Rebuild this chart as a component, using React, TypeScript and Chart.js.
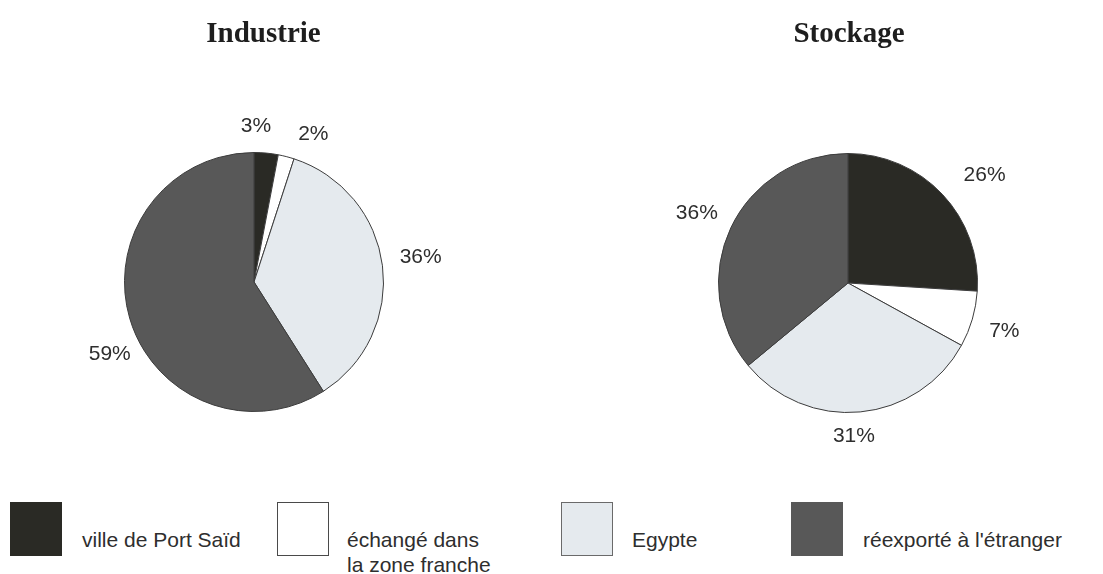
import React, { useEffect, useRef } from "react";
import { Chart, registerables } from "chart.js";

Chart.register(...registerables);

// ---- data ----
const categories = ["ville de Port Saïd", "échangé dans la zone franche", "Egypte", "réexporté à l'étranger"];
const legendLines = [["ville de Port Saïd"], ["échangé dans", "la zone franche"], ["Egypte"], ["réexporté à l'étranger"]];
const industrieValues = [3, 2, 36, 59];
const stockageValues = [26, 7, 31, 36];
const titles = ["Industrie", "Stockage"];

// ---- styles ----
const sliceColors = ["#2a2a25", "#ffffff", "#e5eaee", "#585858"];
const boxBorders = ["#2a2a25", "#4a4a4a", "#6a6a6a", "#585858"];
// label adjustments: [angle shift in degrees, distance beyond outer radius]
const industrieLabelAdjust = [[-4.7, 26], [7.5, 29.5], [-1.3, 39], [-10.5, 32]];
const stockageLabelAdjust = [[4.9, 44.5], [0.8, 34], [3.2, 24], [-0.4, 37]];
const legendBoxLeft = [10, 277, 561, 791];
const legendTextLeft = [82, 347, 632, 863];

function makeDecor(title: string, titleDx: number, adjust: number[][]) {
  return {
    id: "pieDecor",
    afterDatasetsDraw(chart: any) {
      const meta = chart.getDatasetMeta(0);
      const data = chart.data.datasets[0].data as number[];
      const ctx = chart.ctx as CanvasRenderingContext2D;
      ctx.save();
      ctx.fillStyle = "#2e2e2e";
      ctx.font = '21px "Liberation Sans", Arial, sans-serif';
      ctx.textAlign = "center";
      ctx.textBaseline = "middle";
      meta.data.forEach((arc: any, i: number) => {
        const p = arc.getProps(["x", "y", "startAngle", "endAngle", "outerRadius"], true);
        const adj = adjust[i] || [0, 0];
        const a = (p.startAngle + p.endAngle) / 2 + (adj[0] * Math.PI) / 180;
        const r = p.outerRadius + adj[1];
        ctx.fillText(data[i] + "%", p.x + Math.cos(a) * r, p.y + Math.sin(a) * r);
      });
      const c = meta.data[0];
      ctx.fillStyle = "#1e1e1e";
      ctx.font = 'bold 29px "Liberation Serif", "Times New Roman", serif';
      ctx.textBaseline = "alphabetic";
      ctx.fillText(title, c.x + titleDx, 42);
      ctx.restore();
    },
  };
}

function PieChart(props: {
  values: number[];
  title: string;
  titleDx: number;
  adjust: number[][];
  left: number;
  padding: { left: number; right: number; top: number; bottom: number };
}) {
  const ref = useRef<HTMLCanvasElement>(null);
  useEffect(() => {
    const chart = new Chart(ref.current as HTMLCanvasElement, {
      type: "pie",
      data: {
        labels: categories,
        datasets: [
          {
            data: props.values,
            backgroundColor: sliceColors,
            borderColor: "#3c3c3c",
            borderWidth: 1,
          },
        ],
      },
      options: {
        responsive: false,
        animation: false,
        devicePixelRatio: 1,
        layout: { padding: props.padding },
        plugins: {
          legend: { display: false },
          tooltip: { enabled: false },
          title: { display: false },
        },
      },
      plugins: [makeDecor(props.title, props.titleDx, props.adjust)],
    } as any);
    return () => chart.destroy();
  }, []);
  return (
    <canvas
      ref={ref}
      width={551}
      height={480}
      style={{ position: "absolute", left: props.left, top: 0, width: 551, height: 480 }}
    />
  );
}

export default function App() {
  return (
    <div
      style={{
        position: "absolute",
        left: 0,
        top: 0,
        width: 1103,
        height: 574,
        background: "#ffffff",
        overflow: "hidden",
      }}
    >
      <PieChart
        values={industrieValues}
        title={titles[0]}
        titleDx={9.5}
        adjust={industrieLabelAdjust}
        left={0}
        padding={{ left: 124, right: 167, top: 152, bottom: 68 }}
      />
      <PieChart
        values={stockageValues}
        title={titles[1]}
        titleDx={1}
        adjust={stockageLabelAdjust}
        left={551}
        padding={{ left: 167, right: 124, top: 153, bottom: 67 }}
      />
      {legendLines.map((lines, i) => (
        <React.Fragment key={i}>
          <div
            style={{
              position: "absolute",
              left: legendBoxLeft[i],
              top: 502,
              width: 52,
              height: 54,
              boxSizing: "border-box",
              background: sliceColors[i],
              border: "1.5px solid " + boxBorders[i],
            }}
          />
          <div
            style={{
              position: "absolute",
              left: legendTextLeft[i],
              top: 527,
              font: '21px "Liberation Sans", Arial, sans-serif',
              lineHeight: "25px",
              color: "#2e2e2e",
              whiteSpace: "nowrap",
            }}
          >
            {lines.map((l, j) => (
              <div key={j}>{l}</div>
            ))}
          </div>
        </React.Fragment>
      ))}
    </div>
  );
}
